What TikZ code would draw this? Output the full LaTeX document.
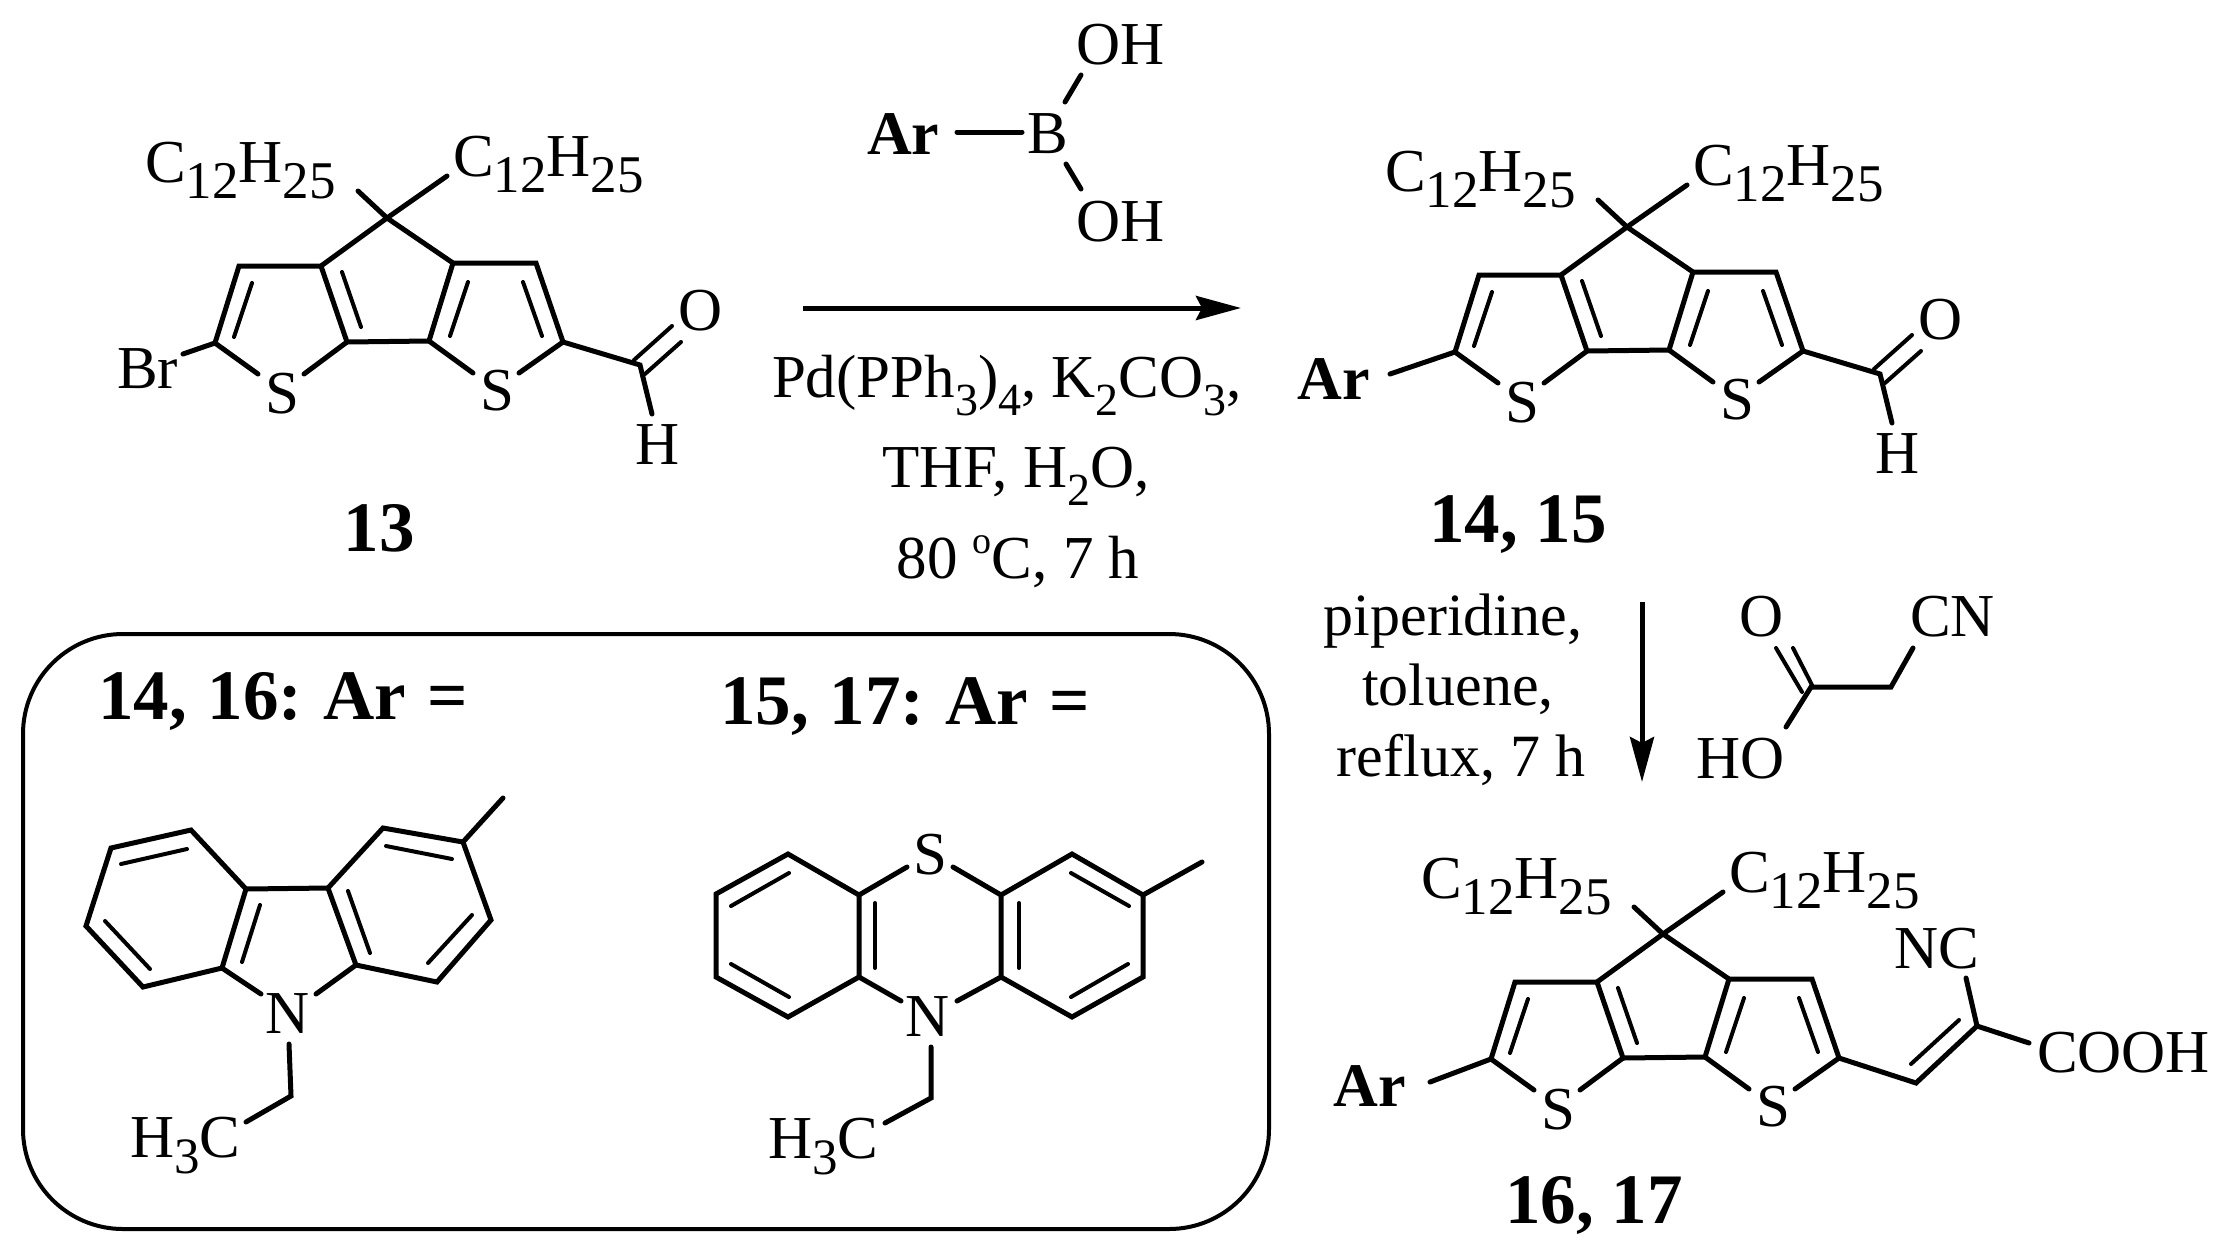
\documentclass[tikz,border=0pt]{standalone}
\usepackage{fontspec}
\setmainfont{Liberation Serif}
\usetikzlibrary{arrows.meta}
\frenchspacing
\newcommand\sbs[1]{\raisebox{-16pt}{\fontsize{53}{53}\selectfont #1}}
\newcommand\sbr[1]{\raisebox{-18pt}{\fontsize{46}{46}\selectfont #1}}
\newcommand\sbm[1]{\raisebox{-16pt}{\fontsize{51}{51}\selectfont #1}}
\newcommand\alkyl{C\sbs{12}H\sbs{25}}
\tikzset{
  lbl/.style={inner sep=0pt,outer sep=0pt,font=\fontsize{61}{61}\selectfont},
  rlbl/.style={inner sep=0pt,outer sep=0pt,font=\fontsize{60}{60}\selectfont},
  blbl/.style={inner sep=0pt,outer sep=0pt,font=\fontsize{71}{71}\selectfont\bfseries},
  arlbl/.style={inner sep=0pt,outer sep=0pt,font=\fontsize{62}{62}\selectfont\bfseries},
  bond/.style={line width=5pt,line cap=round,line join=miter},
  inbond/.style={line width=4pt,line cap=round},
  rxn/.style={line width=5pt,-{Stealth[length=45pt,width=24pt,inset=6pt]}},
  panel/.style={line width=4pt,rounded corners=100pt}
}
\newcommand\core{%
  \coordinate (ctr) at (387,218);
  \coordinate (st1) at (358,191);
  \coordinate (st2) at (447,176);
  \coordinate (a) at (321,266);
  \coordinate (b) at (239,266);
  \coordinate (c) at (215,343);
  \coordinate (d) at (347,342);
  \coordinate (e) at (429,341);
  \coordinate (f) at (453,263);
  \coordinate (g) at (536,263);
  \coordinate (h) at (563,342);
  \coordinate (s1a) at (258,374);
  \coordinate (s1b) at (304,374);
  \coordinate (s2a) at (473,373);
  \coordinate (s2b) at (519,373);
  \coordinate (i1a) at (252,283);
  \coordinate (i1b) at (234,337);
  \coordinate (i2a) at (342,272);
  \coordinate (i2b) at (361,327);
  \coordinate (i3a) at (468,282);
  \coordinate (i3b) at (450,336);
  \coordinate (i4a) at (523,282);
  \coordinate (i4b) at (542,336);
  \node[lbl,anchor=base] (s1) at (282,413) {S};
  \node[lbl,anchor=base] (s2) at (497,410) {S};
  \node[lbl,anchor=base west] (al1) at (145,182) {\alkyl};
  \node[lbl,anchor=base west] (al2) at (453,176) {\alkyl};
  \draw[bond] (st1) -- (ctr) -- (a) -- (b) -- (c) -- (s1a);
  \draw[bond] (st2) -- (ctr) -- (f) -- (g) -- (h) -- (s2b);
  \draw[bond] (a) -- (d) -- (e) -- (f);
  \draw[bond] (s1b) -- (d);
  \draw[bond] (s2a) -- (e);
  \draw[inbond] (i1a) -- (i1b);
  \draw[inbond] (i2a) -- (i2b);
  \draw[inbond] (i3a) -- (i3b);
  \draw[inbond] (i4a) -- (i4b);
}
\newcommand\cho{%
  \coordinate (cc) at (640,365);
  \coordinate (o1a) at (634,360);
  \coordinate (o1b) at (672,326);
  \coordinate (o2a) at (645,374);
  \coordinate (o2b) at (681,342);
  \coordinate (hh) at (652,414);
  \node[lbl,anchor=base] (ol) at (701,330) {O};
  \node[lbl,anchor=base] (hl) at (658,464) {H};
  \draw[bond] (h) -- (cc) -- (hh);
  \draw[inbond] (o1a) -- (o1b);
  \draw[inbond] (o2a) -- (o2b);
}
\begin{document}
\begin{tikzpicture}[x=1pt,y=-1pt]
\useasboundingbox (0,0) rectangle (2222,1254);
% compound 13
\begin{scope}[name prefix=p-]
  \core \cho
  \coordinate (brb) at (183,354);
  \node[lbl,anchor=base west] (br) at (117,388) {Br};
  \draw[bond] (c) -- (brb);
\end{scope}
\node[blbl,anchor=base] (n13) at (379,551) {13};
% compound 14,15
\begin{scope}[shift={(1240,9)},name prefix=q-]
  \core \cho
  \coordinate (arb) at (150,365);
  \node[arlbl,anchor=base] (ar) at (94,390) {Ar};
  \draw[bond] (c) -- (arb);
\end{scope}
\node[blbl,anchor=base] (n14) at (1518,542) {14, 15};
% compound 16,17
\begin{scope}[shift={(1276,716)},name prefix=r-]
  \core
\end{scope}
\coordinate (v1) at (1916,1083);
\coordinate (v2) at (1977,1026);
\coordinate (v3) at (1911,1064);
\coordinate (v4) at (1959,1020);
\coordinate (v5) at (1966,978);
\coordinate (v6) at (2029,1043);
\coordinate (v7) at (1430,1082);
\node[arlbl,anchor=base] (ar3) at (1370,1106) {Ar};
\node[lbl,anchor=base west] (nc) at (1894,968) {NC};
\node[lbl,anchor=base west] (cooh) at (2037,1072) {COOH};
\draw[bond] (r-h) -- (v1) -- (v2) -- (v5);
\draw[bond] (v2) -- (v6);
\draw[bond] (r-c) -- (v7);
\draw[inbond] (v3) -- (v4);
\node[blbl,anchor=base] (n16) at (1594,1223) {16, 17};
% boronic acid
\node[arlbl,anchor=base west] (ar0) at (867,154) {Ar};
\node[lbl,anchor=base west] (bb) at (1027,153) {B};
\node[lbl,anchor=base west] (oh1) at (1076,64) {OH};
\node[lbl,anchor=base west] (oh2) at (1076,241) {OH};
\coordinate (b1) at (957,132);
\coordinate (b2) at (1022,132);
\coordinate (b3) at (1065,102);
\coordinate (b4) at (1081,75);
\coordinate (b5) at (1066,164);
\coordinate (b6) at (1081,189);
\draw[bond] (b1) -- (b2);
\draw[bond] (b3) -- (b4);
\draw[bond] (b5) -- (b6);
% main arrow
\coordinate (ar1s) at (803,308);
\coordinate (ar1e) at (1241,308);
\draw[rxn] (ar1s) -- (ar1e);
\node[lbl,anchor=base] (t1) at (1007,397) {Pd(PPh\sbr{3})\sbr{4}, K\sbr{2}CO\sbr{3},};
\node[lbl,anchor=base] (t2) at (1016,487) {THF, H\sbr{2}O,};
\node[lbl,anchor=base] (t3) at (1018,578) {80 \raisebox{25pt}{\fontsize{38}{38}\selectfont o}C, 7 h};
% second arrow
\coordinate (ar2s) at (1642,602);
\coordinate (ar2e) at (1642,782);
\draw[rxn] (ar2s) -- (ar2e);
\node[rlbl,anchor=base] (t4) at (1453,635) {piperidine,};
\node[rlbl,anchor=base] (t5) at (1458,705) {toluene,};
\node[rlbl,anchor=base] (t6) at (1461,776) {reflux, 7 h};
% cyanoacetic acid
\node[lbl,anchor=base] (co) at (1762,636) {O};
\node[lbl,anchor=base west] (cn) at (1910,636) {CN};
\node[lbl,anchor=base west] (ho) at (1696,778) {HO};
\coordinate (k1) at (1811,687);
\coordinate (k2) at (1891,687);
\coordinate (k3) at (1913,648);
\coordinate (k4) at (1786,727);
\coordinate (k5) at (1776,648);
\coordinate (k6) at (1802,692);
\coordinate (k7) at (1793,648);
\coordinate (k8) at (1813,687);
\draw[bond] (k3) -- (k2) -- (k1) -- (k4);
\draw[inbond] (k5) -- (k6);
\draw[inbond] (k7) -- (k8);
% panel
\draw[panel] (23,634) rectangle (1269,1229);
\node[blbl,anchor=base west] (pl1) at (98,719) {\spaceskip=21pt 14, 16: Ar =};
\node[blbl,anchor=base west] (pl2) at (720,724) {\spaceskip=21pt 15, 17: Ar =};
% carbazole
\coordinate (ca) at (191,830);
\coordinate (cb) at (111,848);
\coordinate (cc) at (86,926);
\coordinate (cd) at (143,987);
\coordinate (ce) at (222,968);
\coordinate (cf) at (246,889);
\coordinate (cg) at (328,888);
\coordinate (ch) at (383,828);
\coordinate (ci) at (463,842);
\coordinate (ctip) at (503,798);
\coordinate (cj) at (491,920);
\coordinate (ck) at (437,982);
\coordinate (cl) at (356,965);
\coordinate (cn1) at (261,994);
\coordinate (cn2) at (316,994);
\coordinate (cn3) at (289,1044);
\coordinate (cn4) at (291,1096);
\coordinate (cn5) at (246,1122);
\node[lbl,anchor=base] (cnl) at (288,1033) {N};
\node[lbl,anchor=base west] (cme) at (130,1157) {H\sbm{3}C};
\draw[bond] (cf) -- (ca) -- (cb) -- (cc) -- (cd) -- (ce) -- cycle;
\draw[bond] (cg) -- (ch) -- (ci) -- (cj) -- (ck) -- (cl) -- cycle;
\draw[bond] (cf) -- (cg);
\draw[bond] (ci) -- (ctip);
\draw[bond] (ce) -- (cn1);
\draw[bond] (cl) -- (cn2);
\draw[bond] (cn3) -- (cn4) -- (cn5);
\coordinate (cx1) at (121,864);
\coordinate (cx2) at (187,849);
\coordinate (cx3) at (105,921);
\coordinate (cx4) at (150,969);
\coordinate (cx5) at (260,905);
\coordinate (cx6) at (242,962);
\coordinate (cx7) at (348,891);
\coordinate (cx8) at (370,953);
\coordinate (cx9) at (386,846);
\coordinate (cx10) at (452,859);
\coordinate (cx11) at (472,915);
\coordinate (cx12) at (428,963);
\draw[inbond] (cx1) -- (cx2);
\draw[inbond] (cx3) -- (cx4);
\draw[inbond] (cx5) -- (cx6);
\draw[inbond] (cx7) -- (cx8);
\draw[inbond] (cx9) -- (cx10);
\draw[inbond] (cx11) -- (cx12);
% phenothiazine
\coordinate (pa) at (788,854);
\coordinate (pb) at (716,894);
\coordinate (pc) at (716,977);
\coordinate (pd) at (788,1017);
\coordinate (pe) at (859,977);
\coordinate (pf) at (859,895);
\coordinate (pg) at (1001,895);
\coordinate (ph) at (1001,977);
\coordinate (pi) at (1072,854);
\coordinate (pj) at (1143,895);
\coordinate (pk) at (1143,977);
\coordinate (pl) at (1072,1017);
\coordinate (ptip) at (1202,862);
\coordinate (ps1) at (907,867);
\coordinate (ps2) at (953,867);
\coordinate (pn1) at (901,1001);
\coordinate (pn2) at (957,1001);
\coordinate (pn3) at (931,1047);
\coordinate (pn4) at (931,1098);
\coordinate (pn5) at (885,1123);
\node[lbl,anchor=base] (psl) at (930,874) {S};
\node[lbl,anchor=base] (pnl) at (928,1036) {N};
\node[lbl,anchor=base west] (pme) at (768,1158) {H\sbm{3}C};
\draw[bond] (pf) -- (pa) -- (pb) -- (pc) -- (pd) -- (pe) -- cycle;
\draw[bond] (pg) -- (pi) -- (pj) -- (pk) -- (pl) -- (ph) -- cycle;
\draw[bond] (pj) -- (ptip);
\draw[bond] (pf) -- (ps1);
\draw[bond] (pg) -- (ps2);
\draw[bond] (pe) -- (pn1);
\draw[bond] (ph) -- (pn2);
\draw[bond] (pn3) -- (pn4) -- (pn5);
\coordinate (px1) at (731,906);
\coordinate (px2) at (789,873);
\coordinate (px3) at (731,964);
\coordinate (px4) at (789,997);
\coordinate (px5) at (875,903);
\coordinate (px6) at (875,968);
\coordinate (px7) at (1019,903);
\coordinate (px8) at (1019,968);
\coordinate (px9) at (1071,873);
\coordinate (px10) at (1129,906);
\coordinate (px11) at (1128,964);
\coordinate (px12) at (1071,997);
\draw[inbond] (px1) -- (px2);
\draw[inbond] (px3) -- (px4);
\draw[inbond] (px5) -- (px6);
\draw[inbond] (px7) -- (px8);
\draw[inbond] (px9) -- (px10);
\draw[inbond] (px11) -- (px12);
\end{tikzpicture}
\end{document}
